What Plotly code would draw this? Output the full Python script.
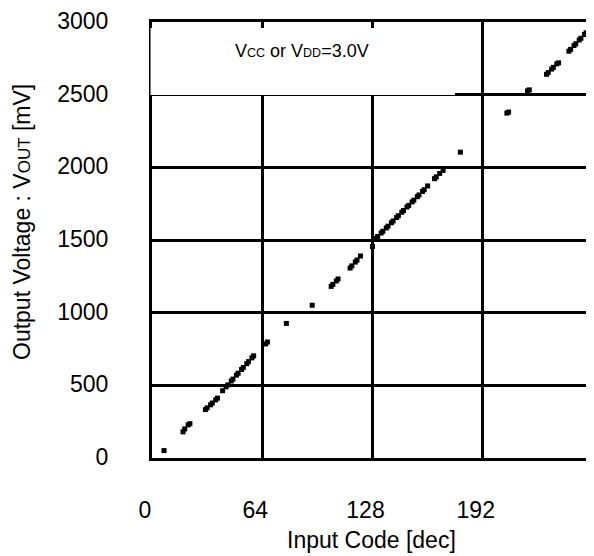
import plotly.graph_objects as go

input_code = [7,
              18, 19, 21, 22,
              31, 32, 34, 35, 37, 38,
              41, 43, 44, 46, 47, 49, 50, 52, 53, 55, 56, 58, 59,
              66, 67,
              78,
              93,
              104, 105, 107, 108,
              115, 116, 118, 119, 121,
              128,
              130, 131, 133, 134, 136, 137, 139, 140, 142, 143, 145, 146,
              148, 149, 151, 152, 154, 155, 157, 158, 160,
              164, 165, 167, 169,
              179,
              206, 207,
              218, 219,
              229, 230, 232, 233, 235, 236,
              242, 243, 245, 246, 248, 249, 251, 252, 254, 255]
output_mv = [51,
             180, 200, 228, 236,
             333, 345, 366, 378, 400, 412,
             463, 490, 503, 530, 543, 570, 583, 609, 623, 649, 663, 689, 703,
             785, 798,
             926,
             1051,
             1181, 1195, 1218, 1232,
             1307, 1322, 1348, 1362, 1390,
             1455,
             1512, 1524, 1548, 1560, 1583, 1595, 1619, 1631, 1655, 1667, 1691, 1703,
             1727, 1738, 1762, 1774, 1798, 1810, 1834, 1846, 1872,
             1922, 1934, 1958, 1979,
             2104,
             2373, 2380,
             2526, 2533,
             2640, 2652, 2676, 2688, 2712, 2719,
             2799, 2812, 2838, 2850, 2876, 2888, 2914, 2926, 2952, 2966]

x_ticks = [0, 64, 128, 192]
y_ticks = [0, 500, 1000, 1500, 2000, 2500, 3000]

FONT = "Liberation Sans, Arial, sans-serif"

# page body has an 8px margin: figure coordinates = page coordinates - 8
OFF = 8
W, H = 594 - OFF, 556 - OFF
L, R, T, B = 152 - OFF, 1, 22 - OFF, 98

fig = go.Figure()
fig.add_trace(go.Scatter(
    x=input_code, y=output_mv, mode="markers",
    marker=dict(symbol="square", size=5, color="black", line=dict(width=0)),
    showlegend=False, hoverinfo="skip"))

fig.update_layout(
    width=W, height=H,
    margin=dict(l=L, r=R, t=T, b=B, pad=0),
    paper_bgcolor="white", plot_bgcolor="white",
    font=dict(family=FONT, size=23, color="black"),
    showlegend=False,
)
fig.update_xaxes(
    range=[0, 256], tickvals=x_ticks, ticktext=[str(v) for v in x_ticks],
    showgrid=True, gridcolor="black", gridwidth=3,
    showline=True, linecolor="black", linewidth=3, mirror=True,
    ticks="", zeroline=False, ticklabelshift=-7, ticklabelstandoff=29,
    tickfont=dict(size=23),
)
fig.update_yaxes(
    range=[0, 3000], tickvals=y_ticks, ticktext=[str(v) for v in y_ticks],
    showgrid=True, gridcolor="black", gridwidth=3,
    showline=True, linecolor="black", linewidth=3,
    ticks="", zeroline=False, ticklabelstandoff=36, ticklabelshift=-1,
    tickfont=dict(size=23),
)

pw, ph = W - L - R, H - T - B


def px(xp):  # page x pixel -> paper fraction
    return (xp - OFF - L) / pw


def py(yp):  # page y pixel -> paper fraction
    return (H - B - (yp - OFF)) / ph


# white box covering upper-left region (half-covers the left border and 2500 line)
fig.add_shape(type="rect", xref="paper", yref="paper",
              x0=px(150.5), x1=px(455), y0=py(95), y1=py(28),
              fillcolor="white", line=dict(width=0), layer="above")
# keep the top border visible above the box
fig.add_shape(type="line", xref="paper", yref="paper",
              x0=px(149), x1=px(456), y0=py(20.5), y1=py(20.5),
              line=dict(color="black", width=3), layer="above")

fig.add_annotation(
    xref="paper", yref="paper", x=px(301.5), y=py(51),
    text="V<span style='font-size:12.5px'>CC</span> or V<span style='font-size:12.5px'>DD</span>=3.0V",
    showarrow=False, font=dict(size=18, family=FONT, color="black"),
    xanchor="center", yanchor="middle")

fig.add_annotation(
    xref="paper", yref="paper", x=px(371.5), y=py(540),
    text="Input Code [dec]", showarrow=False,
    font=dict(size=23, family=FONT, color="black"),
    xanchor="center", yanchor="middle")

fig.add_annotation(
    xref="paper", yref="paper", x=px(22), y=py(222),
    text="Output Voltage : V<span style='font-size:17px'>OUT</span> [mV]",
    showarrow=False, textangle=-90,
    font=dict(size=23, family=FONT, color="black"),
    xanchor="center", yanchor="middle")

fig.write_html("out.html")
